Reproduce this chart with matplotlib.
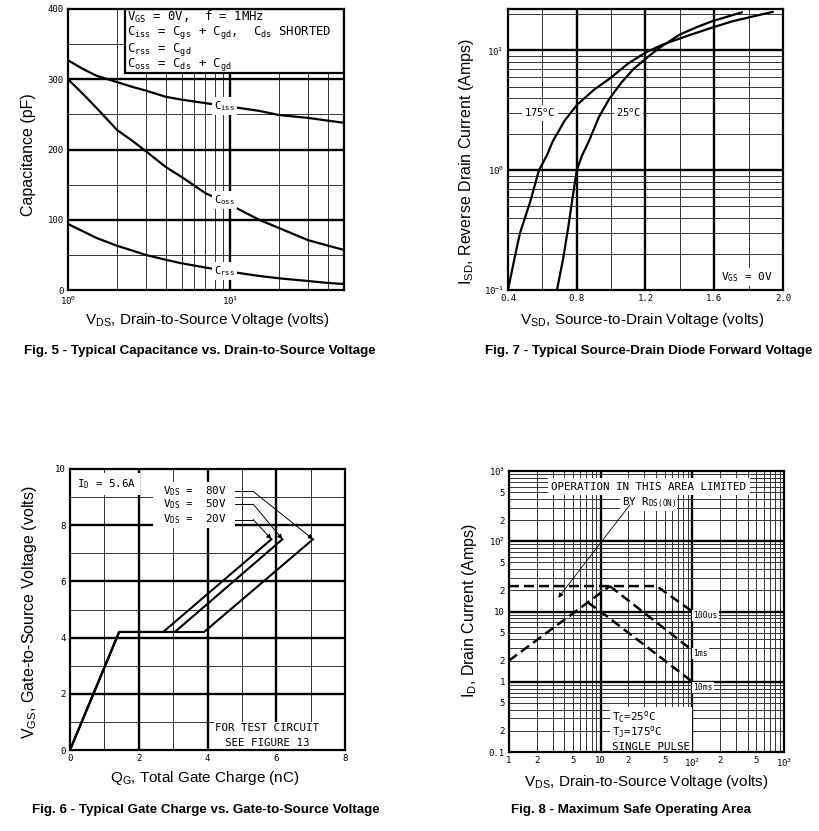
"""Recreate the MOSFET datasheet page with Figs. 5-8."""

import matplotlib

matplotlib.use("Agg")
import matplotlib.pyplot as plt
from matplotlib.patches import Rectangle

FIG_W, FIG_H = 820, 831
MONO = "DejaVu Sans Mono"
SANS = "Liberation Sans"

# Fig. 5 - capacitance vs. V_DS
CAP_VDS = [1, 1.25, 1.5, 2, 2.5, 3, 4, 5, 7, 10, 15, 20, 30, 40, 50]
CISS_PF = [327, 314, 305, 296, 289, 284, 275, 271, 266, 261, 255, 249, 245, 241, 238]
COSS_PF = [300, 278, 259, 228, 212, 198, 175, 161, 138, 121, 100, 88, 71, 63, 57]
CRSS_PF = [94, 83, 74, 63, 56, 50, 43, 38, 32, 26, 20, 16.6, 12.8, 10, 8.5]

# Fig. 7 - source-drain diode forward voltage
VSD_175C = [0.40, 0.44, 0.47, 0.53, 0.58, 0.625, 0.66, 0.73, 0.80, 0.90, 0.99, 1.10, 1.20,
            1.30, 1.44, 1.58, 1.71, 1.94]
ISD_175C = [0.10, 0.19, 0.30, 0.55, 1.0, 1.32, 1.74, 2.6, 3.5, 4.7, 5.8, 7.8, 9.6,
            11.2, 13.2, 15.4, 17.6, 21.0]
VSD_25C = [0.685, 0.72, 0.75, 0.775, 0.80, 0.83, 0.87, 0.93, 0.99, 1.06, 1.13, 1.21, 1.28,
           1.40, 1.50, 1.59, 1.76]
ISD_25C = [0.10, 0.18, 0.33, 0.58, 1.0, 1.32, 1.74, 2.8, 3.96, 5.4, 7.0, 8.75, 10.5,
           13.6, 15.7, 17.6, 20.8]

# Fig. 6 - gate charge
GATE_V = [0, 4.2, 4.2, 7.5]
GATE_Q_20V = [0, 1.43, 2.71, 5.86]
GATE_Q_50V = [0, 1.43, 3.05, 6.18]
GATE_Q_80V = [0, 1.43, 3.90, 7.07]
VDS_LABELS = ["80V", "50V", "20V"]

# Fig. 8 - safe operating area
SOA_RDS_V = [1.0, 12.6]
SOA_RDS_I = [2.0, 23.0]
SOA_100US_V = [1.0, 40.8, 100]
SOA_100US_I = [23.0, 23.0, 10.0]
SOA_1MS_V = [12.6, 100]
SOA_1MS_I = [23.0, 2.8]
SOA_10MS_V = [7.2, 10, 100]
SOA_10MS_I = [13.5, 10.0, 1.0]
SOA_X_TICKS = [1, 2, 5, 10, 20, 50, 100, 200, 500, 1000]
SOA_Y_TICKS = [0.1, 0.2, 0.5, 1, 2, 5, 10, 20, 50, 100, 200, 500, 1000]


def sub(s):
    return r"$\mathregular{_{%s}}$" % s


def sup(s):
    return r"$\mathregular{^{%s}}$" % s


def px_axes(fig, left, top, right, bottom):
    return fig.add_axes([left / FIG_W, 1 - bottom / FIG_H,
                         (right - left) / FIG_W, (bottom - top) / FIG_H])


def fig_text(fig, x, y, s, **kw):
    fig.text(x / FIG_W, 1 - y / FIG_H, s, ha="center", va="center", **kw)


def style_axes(ax):
    for sp in ax.spines.values():
        sp.set_linewidth(1.6)
        sp.set_zorder(6)
    ax.minorticks_off()
    ax.tick_params(length=0, pad=3, labelsize=6.5)
    for lab in ax.get_xticklabels() + ax.get_yticklabels():
        lab.set_family(MONO)


def grid(ax, vmajor, vminor, hmajor, hminor):
    for x in vminor:
        ax.axvline(x, color="0.2", lw=0.7, zorder=1)
    for x in vmajor:
        ax.axvline(x, color="black", lw=1.7, zorder=1)
    for y in hminor:
        ax.axhline(y, color="0.2", lw=0.7, zorder=1)
    for y in hmajor:
        ax.axhline(y, color="black", lw=1.7, zorder=1)


WHITE = dict(facecolor="white", edgecolor="none", pad=1.5)


def plot_capacitance(fig):
    ax = px_axes(fig, 68, 9, 344, 290)
    ax.set_xscale("log")
    ax.set_xlim(1, 50)
    ax.set_ylim(0, 400)
    grid(ax, [10], [2, 3, 4, 5, 6, 7, 8, 9, 20, 30, 40],
         [100, 200, 300], [50, 150, 250, 350])
    for y in (CISS_PF, COSS_PF, CRSS_PF):
        ax.plot(CAP_VDS, y, color="black", lw=1.6, zorder=3)
    ax.set_xticks([1, 10], ["10" + sup("0"), "10" + sup("1")])
    ax.set_yticks([0, 100, 200, 300, 400], ["0", "100", "200", "300", "400"])
    style_axes(ax)

    ax.add_patch(Rectangle((0.2065, 0.773), 0.7935, 0.227, transform=ax.transAxes,
                           facecolor="white", edgecolor="black", lw=1.6, zorder=4))
    lines = [
        "V" + sub("GS") + " = 0V,  f = 1MHz",
        "C" + sub("iss") + " = C" + sub("gs") + " + C" + sub("gd") + ",  C" + sub("ds") + " SHORTED",
        "C" + sub("rss") + " = C" + sub("gd"),
        "C" + sub("oss") + " = C" + sub("ds") + " + C" + sub("gd"),
    ]
    for s, y in zip(lines, [0.973, 0.917, 0.856, 0.801]):
        ax.text(0.215, y, s, transform=ax.transAxes, family=MONO, fontsize=8.8,
                va="center", ha="left", zorder=5)
    for name, x, y in (("iss", 9.2, 262), ("oss", 9.2, 128), ("rss", 9.2, 27)):
        ax.text(x, y, "C" + sub(name), family=MONO, fontsize=7.5, ha="center",
                va="center", bbox=WHITE, zorder=4)

    fig_text(fig, 207, 320, "V" + sub("DS") + ", Drain-to-Source Voltage (volts)",
             family=SANS, fontsize=11)
    fig_text(fig, 29, 155, "Capacitance (pF)", family=SANS, fontsize=11.5, rotation=90)
    fig_text(fig, 200, 351, "Fig. 5 - Typical Capacitance vs. Drain-to-Source Voltage",
             family=SANS, fontsize=9.6, weight="bold")


def plot_diode(fig):
    ax = px_axes(fig, 508, 9, 783, 290)
    ax.set_yscale("log")
    ax.set_xlim(0.4, 2.0)
    ax.set_ylim(0.1, 22.2)
    minors = [m * d for d in (0.1, 1, 10) for m in range(2, 10)]
    grid(ax, [0.8, 1.2, 1.6], [0.6, 1.0, 1.4, 1.8], [1, 10], minors)
    ax.plot(VSD_175C, ISD_175C, color="black", lw=1.6, zorder=3)
    ax.plot(VSD_25C, ISD_25C, color="black", lw=1.6, zorder=3)
    ax.set_xticks([0.4, 0.8, 1.2, 1.6, 2.0], ["0.4", "0.8", "1.2", "1.6", "2.0"])
    ax.set_yticks([0.1, 1, 10], ["10" + sup("-1"), "10" + sup("0"), "10" + sup("1")])
    style_axes(ax)

    ax.text(0.586, 3.0, "175" + sup("o") + "C", family=MONO, fontsize=7.5,
            ha="center", va="center", bbox=WHITE, zorder=4)
    ax.text(1.10, 3.0, "25" + sup("o") + "C", family=MONO, fontsize=7.5,
            ha="center", va="center", bbox=WHITE, zorder=4)
    ax.text(1.79, 0.128, "V" + sub("GS") + " = 0V", family=MONO, fontsize=8,
            ha="center", va="center", bbox=WHITE, zorder=4)

    fig_text(fig, 642, 320, "V" + sub("SD") + ", Source-to-Drain Voltage (volts)",
             family=SANS, fontsize=11)
    fig_text(fig, 467, 162, "I" + sub("SD") + ", Reverse Drain Current (Amps)",
             family=SANS, fontsize=11.5, rotation=90)
    fig_text(fig, 649, 351, "Fig. 7 - Typical Source-Drain Diode Forward Voltage",
             family=SANS, fontsize=9.6, weight="bold")


def plot_gate_charge(fig):
    ax = px_axes(fig, 70, 469, 345, 750)
    ax.set_xlim(0, 8)
    ax.set_ylim(0, 10)
    grid(ax, [2, 4, 6], [1, 3, 5, 7], [2, 4, 6, 8], [1, 3, 5, 7, 9])
    curves = [GATE_Q_80V, GATE_Q_50V, GATE_Q_20V]
    for q in curves:
        ax.plot(q, GATE_V, color="black", lw=1.5, zorder=3)
    ax.set_xticks([0, 2, 4, 6, 8], ["0", "2", "4", "6", "8"])
    ax.set_yticks([0, 2, 4, 6, 8, 10], ["0", "2", "4", "6", "8", "10"])
    style_axes(ax)

    ax.text(0.2, 9.47, "I" + sub("D") + " = 5.6A", family=MONO, fontsize=7.8,
            ha="left", va="center", bbox=dict(facecolor="white", edgecolor="none", pad=3),
            zorder=4)
    ax.add_patch(Rectangle((2.4, 7.9), 2.4, 1.65, facecolor="white",
                           edgecolor="none", zorder=2))
    for lab, q, y in zip(VDS_LABELS, curves, [9.2, 8.75, 8.2]):
        ax.text(2.7, y, "V" + sub("DS") + " =  " + lab, family=MONO, fontsize=7.8,
                ha="left", va="center", zorder=4)
        ax.plot([4.8, 5.33], [y, y], color="black", lw=0.7, zorder=4)
        ax.annotate("", xy=(q[-1], GATE_V[-1]), xytext=(5.33, y), zorder=4,
                    arrowprops=dict(arrowstyle="-|>", lw=0.7, color="black",
                                    mutation_scale=7, shrinkA=0, shrinkB=0))
    ax.add_patch(Rectangle((4.2, 0), 3.8, 1.0, facecolor="white",
                           edgecolor="none", zorder=2))
    ax.text(5.74, 0.78, "FOR TEST CIRCUIT", family=MONO, fontsize=7.8,
            ha="center", va="center", zorder=4)
    ax.text(5.74, 0.25, "SEE FIGURE 13", family=MONO, fontsize=7.8,
            ha="center", va="center", zorder=4)

    fig_text(fig, 205, 778, "Q" + sub("G") + ", Total Gate Charge (nC)",
             family=SANS, fontsize=11)
    fig_text(fig, 30, 612, "V" + sub("GS") + ", Gate-to-Source Voltage (volts)",
             family=SANS, fontsize=11.5, rotation=90)
    fig_text(fig, 206, 810, "Fig. 6 - Typical Gate Charge vs. Gate-to-Source Voltage",
             family=SANS, fontsize=9.6, weight="bold")


def plot_soa(fig):
    ax = px_axes(fig, 509, 471, 784, 752)
    ax.set_xscale("log")
    ax.set_yscale("log")
    ax.set_xlim(1, 1000)
    ax.set_ylim(0.1, 1000)
    xmin = [m * d for d in (1, 10, 100) for m in range(2, 10)]
    ymin = [m * d for d in (0.1, 1, 10, 100) for m in range(2, 10)]
    grid(ax, [10, 100], xmin, [1, 10, 100], ymin)
    dash = dict(color="black", lw=1.8, ls=(0, (4, 2)), zorder=3)
    ax.plot(SOA_RDS_V, SOA_RDS_I, **dash)
    ax.plot(SOA_100US_V, SOA_100US_I, **dash)
    ax.plot(SOA_1MS_V, SOA_1MS_I, **dash)
    ax.plot(SOA_10MS_V, SOA_10MS_I, **dash)
    xlabels = ["1", "2", "5", "10", "2", "5", "10" + sup("2"), "2", "5", "10" + sup("3")]
    ylabels = ["0.1", "2", "5", "1", "2", "5", "10", "2", "5", "10" + sup("2"),
               "2", "5", "10" + sup("3")]
    ax.set_xticks(SOA_X_TICKS, xlabels)
    ax.set_yticks(SOA_Y_TICKS, ylabels)
    style_axes(ax)

    for s, y in (("100us", 8.8), ("1ms", 2.5), ("10ms", 0.82)):
        ax.text(102, y, s, family=MONO, fontsize=5.8, ha="left", va="center",
                bbox=dict(facecolor="white", edgecolor="none", pad=0.8), zorder=4)
    ax.text(33.6, 600, "OPERATION IN THIS AREA LIMITED", family=MONO, fontsize=7.8,
            ha="center", va="center", bbox=dict(facecolor="white", edgecolor="none", pad=2.5),
            zorder=4)
    ax.text(33.6, 355, "BY R" + sub("DS (ON)"), family=MONO, fontsize=7.8,
            ha="center", va="center", bbox=dict(facecolor="white", edgecolor="none", pad=1),
            zorder=4)
    ax.annotate("", xy=(3.45, 15.7), xytext=(20.9, 331), zorder=4,
                arrowprops=dict(arrowstyle="-|>", lw=0.6, color="black",
                                mutation_scale=7, shrinkA=0, shrinkB=0))
    ax.add_patch(Rectangle((12.5, 0.1), 87.5, 0.33, facecolor="white",
                           edgecolor="none", zorder=2))
    for s, y in (("T" + sub("C") + "=25" + sup("o") + "C", 0.318),
                 ("T" + sub("J") + "=175" + sup("o") + "C", 0.194),
                 ("SINGLE PULSE", 0.119)):
        ax.text(13.3, y, s, family=MONO, fontsize=7.8, ha="left", va="center", zorder=4)

    fig_text(fig, 646, 782, "V" + sub("DS") + ", Drain-to-Source Voltage (volts)",
             family=SANS, fontsize=11)
    fig_text(fig, 470, 610, "I" + sub("D") + ", Drain Current (Amps)",
             family=SANS, fontsize=11.5, rotation=90)
    fig_text(fig, 631, 810, "Fig. 8 - Maximum Safe Operating Area",
             family=SANS, fontsize=9.6, weight="bold")


def main():
    fig = plt.figure(figsize=(FIG_W / 100, FIG_H / 100), dpi=100)
    plot_capacitance(fig)
    plot_diode(fig)
    plot_gate_charge(fig)
    plot_soa(fig)
    fig.savefig("out.png", dpi=100)
    plt.close(fig)


if __name__ == "__main__":
    main()
